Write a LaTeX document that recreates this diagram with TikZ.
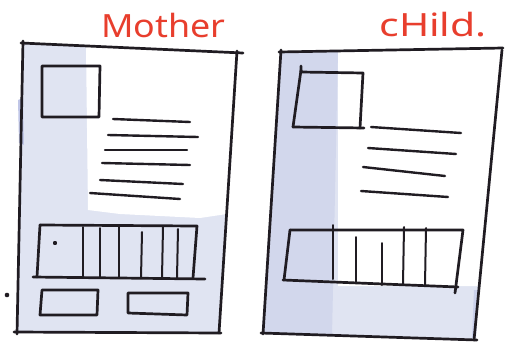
\documentclass[tikz,border=0pt]{standalone}
\usepackage{fontspec}
\newfontfamily\handfont{Noto Sans}
\definecolor{ink}{RGB}{32,28,34}
\definecolor{wash}{RGB}{224,228,242}
\definecolor{washdark}{RGB}{210,215,236}
\definecolor{washblue}{RGB}{150,160,215}
\definecolor{marker}{RGB}{232,62,45}
\tikzset{
  ink/.style={draw=ink, line width=2.7pt, line cap=round, line join=round},
  bar/.style={draw=ink, line width=2pt, line cap=round},
  textline/.style={draw=ink, line width=2.4pt, line cap=round},
  title/.style={text=marker, font=\handfont\fontsize{32}{32}\selectfont, inner sep=0pt, anchor=base},
}
\begin{document}
\begin{tikzpicture}[x=1pt,y=-1pt]
\useasboundingbox (0,0) rectangle (513,343);
\fill[white] (0,0) rectangle (513,343);

% ---------- washes ----------
% mother
\fill[wash] (23,43) -- (237,52) -- (219,333) -- (17,333) -- cycle;
\fill[white] (86,46) -- (236,52) -- (227,214) -- (200,218) -- (120,214) -- (88,210) -- cycle;
\fill[washblue!60] (18,100) -- (23,98) -- (24,145) -- (19,143) -- cycle;
% child
\fill[wash] (280,52) -- (502,49) -- (474,339) -- (262,333) -- cycle;
\fill[washdark] (280,52) -- (338,51) -- (332,336) -- (262,333) -- cycle;
\fill[white] (338,51) -- (502,49) -- (479,286) -- (338,286) -- cycle;
\fill[washblue!50] (474,290) -- (479,290) -- (476,338) -- (472,338) -- cycle;

% ---------- titles ----------
\node[title, xscale=1.12] (mothertitle) at (163.5,37) {Mother};
\node[title, xscale=1.28] (childtitle) at (433,36) {cHild.};

% ---------- mother page ----------
\draw[ink] (21,43) -- (243,53);
\draw[ink] (237,51) -- (219,333);
\draw[ink] (14,332) -- (221,333);
\draw[ink] (23,41) -- (17,334);
% photo box
\draw[ink] (42,66) -- (100,66) -- (99,117) -- (42,117) -- cycle;
% text lines
\draw[textline] (113,119) -- (190,122);
\draw[textline] (108,135) -- (198,137);
\draw[textline] (105,150) -- (187,150);
\draw[textline] (102,163) -- (190,165);
\draw[textline] (100,180) -- (183,184);
\draw[textline] (90,193) -- (180,199);
% bar box
\draw[ink] (40,225) -- (197,226) -- (193,278);
\draw[ink] (40,225) -- (37,277);
\draw[ink] (33,277) -- (205,279);
\draw[bar] (83,227) -- (83,277);
\draw[bar] (100,228) -- (100,277);
\draw[bar] (119,226) -- (119,277);
\draw[bar] (142,232) -- (141,278);
\draw[bar] (163,227) -- (162,278);
\draw[bar] (178,229) -- (177,278);
\fill[ink] (55,243) circle (0.9);
% bottom boxes
\draw[ink] (42,290) -- (98,290) -- (97,315) -- (40,315) -- cycle;
\draw[ink] (128,293) -- (188,293) -- (187,315) -- (128,313) -- cycle;
\fill[ink] (7,295) circle (1.1);

% ---------- child page ----------
\draw[ink] (279,52) -- (503,48);
\draw[ink] (502,50) -- (474,340);
\draw[ink] (261,333) -- (477,340);
\draw[ink] (281,50) -- (263,334);
% photo box
\draw[ink] (301,66) -- (301,72) -- (363,73) -- (360,128);
\draw[ink] (301,70) -- (293,127);
\draw[ink] (293,127) -- (364,128);
% text lines
\draw[textline] (371,127) -- (461,133);
\draw[textline] (368,148) -- (456,154);
\draw[textline] (363,167) -- (445,176);
\draw[textline] (361,191) -- (448,197);
% bar box
\draw[ink] (290,230) -- (463,230) -- (455,293);
\draw[ink] (290,230) -- (284,280);
\draw[ink] (283,280) -- (458,287);
\draw[bar] (333,225) -- (333,279);
\draw[bar] (356,237) -- (356,283);
\draw[bar] (382,243) -- (382,285);
\draw[bar] (404,227) -- (403,284);
\draw[bar] (426,228) -- (425,285);
\end{tikzpicture}
\end{document}
